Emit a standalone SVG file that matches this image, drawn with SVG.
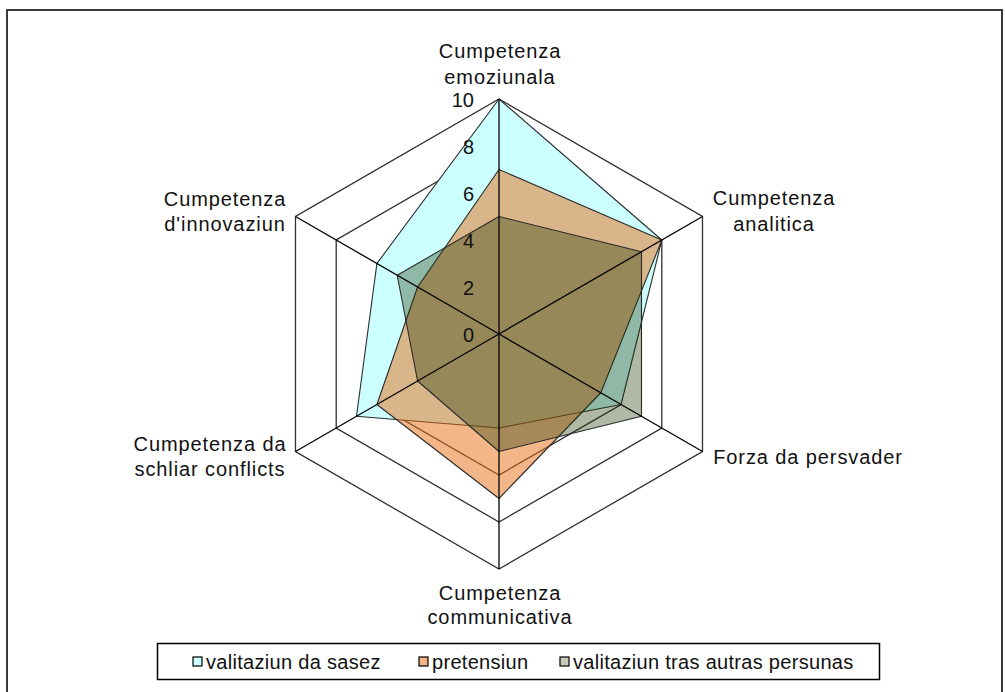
<svg xmlns="http://www.w3.org/2000/svg" width="1005" height="692" viewBox="0 0 1005 692">
  <style>
    .ring { fill: none; stroke: #303030; stroke-width: 1.3; }
    .spoke { stroke: #000; stroke-width: 1.3; }
    .series { stroke: #2a2a2a; stroke-width: 1.1; stroke-linejoin: round; }
    .s1 { fill: #ccffff; }
    .s2 { fill: #e66e14; fill-opacity: 0.5; }
    .s3 { fill: #1d3400; fill-opacity: 0.35; }
    .cat { font-family: "Liberation Sans", Arial, sans-serif; font-size: 20px; fill: #111; letter-spacing: 0.9px; text-anchor: middle; }
    .num { font-family: "Liberation Sans", Arial, sans-serif; font-size: 20px; fill: #111; text-anchor: end; }
    .leg { font-family: "Liberation Sans", Arial, sans-serif; font-size: 20px; fill: #111; letter-spacing: 0.3px; }
    .sw { stroke: #000; stroke-width: 1.2; }
  </style>
  <rect x="0" y="0" width="1005" height="692" fill="#fff"/>
  <rect x="7" y="10" width="995" height="700" fill="#fff" stroke="#3a3a3a" stroke-width="2"/>

  <g id="gridlines">
    <polygon class="ring" points="499,99 702.5,216.5 702.5,451.5 499,569 295.5,451.5 295.5,216.5"/>
    <polygon class="ring" points="499,146 661.8,240 661.8,428 499,522 336.2,428 336.2,240"/>
    <polygon class="ring" points="499,193 621.1,263.5 621.1,404.5 499,475 376.9,404.5 376.9,263.5"/>
    <polygon class="ring" points="499,240 580.4,287 580.4,381 499,428 417.6,381 417.6,287"/>
    <polygon class="ring" points="499,287 539.7,310.5 539.7,357.5 499,381 458.3,357.5 458.3,310.5"/>
  </g>

  <g id="series-sasez">
    <polygon class="series s1" points="499,99 661.8,240 621.1,404.5 499,428 356.5,416.25 376.9,263.5"/>
  </g>
  <g id="series-pretensiun">
    <polygon class="series s2" points="499,169.5 661.8,240 600.8,392.75 499,498.5 376.9,404.5 417.6,287"/>
  </g>
  <g id="series-autras">
    <polygon class="series s3" points="499,216.5 641.5,251.75 641.5,416.25 499,451.5 417.6,381 397.2,275.25"/>
  </g>

  <g id="connectors">
    <line class="spoke" x1="499" y1="334" x2="499" y2="99"/>
    <line class="spoke" x1="499" y1="334" x2="702.5" y2="216.5"/>
    <line class="spoke" x1="499" y1="334" x2="702.5" y2="451.5"/>
    <line class="spoke" x1="499" y1="334" x2="499" y2="569"/>
    <line class="spoke" x1="499" y1="334" x2="295.5" y2="451.5"/>
    <line class="spoke" x1="499" y1="334" x2="295.5" y2="216.5"/>
  </g>

  <g id="axis-values">
    <text class="num" x="474" y="107">10</text>
    <text class="num" x="474" y="154">8</text>
    <text class="num" x="474" y="201">6</text>
    <text class="num" x="474" y="248">4</text>
    <text class="num" x="474" y="295">2</text>
    <text class="num" x="474" y="342">0</text>
  </g>

  <g id="label-emoziunala">
    <text class="cat" x="500" y="58">Cumpetenza</text>
    <text class="cat" x="500" y="84">emoziunala</text>
  </g>
  <g id="label-analitica">
    <text class="cat" x="774" y="205">Cumpetenza</text>
    <text class="cat" x="774" y="231">analitica</text>
  </g>
  <g id="label-persvader">
    <text class="cat" x="808" y="464">Forza da persvader</text>
  </g>
  <g id="label-communicativa">
    <text class="cat" x="500" y="600">Cumpetenza</text>
    <text class="cat" x="500" y="624">communicativa</text>
  </g>
  <g id="label-conflicts">
    <text class="cat" x="210" y="451">Cumpetenza da</text>
    <text class="cat" x="210" y="476">schliar conflicts</text>
  </g>
  <g id="label-innovaziun">
    <text class="cat" x="225" y="206">Cumpetenza</text>
    <text class="cat" x="225" y="231">d'innovaziun</text>
  </g>

  <g id="legend">
    <rect x="157.5" y="643.5" width="722" height="36" fill="#fff" stroke="#000" stroke-width="1.5"/>
    <rect class="sw" x="193" y="657" width="9" height="9" fill="#ccffff"/>
    <text class="leg" x="206" y="669">valitaziun da sasez</text>
    <rect class="sw" x="419" y="657" width="9" height="9" fill="#f3b585"/>
    <text class="leg" x="432" y="669">pretensiun</text>
    <rect class="sw" x="560" y="657" width="9" height="9" fill="#c6cab8"/>
    <text class="leg" x="573" y="669">valitaziun tras autras persunas</text>
  </g>
</svg>
